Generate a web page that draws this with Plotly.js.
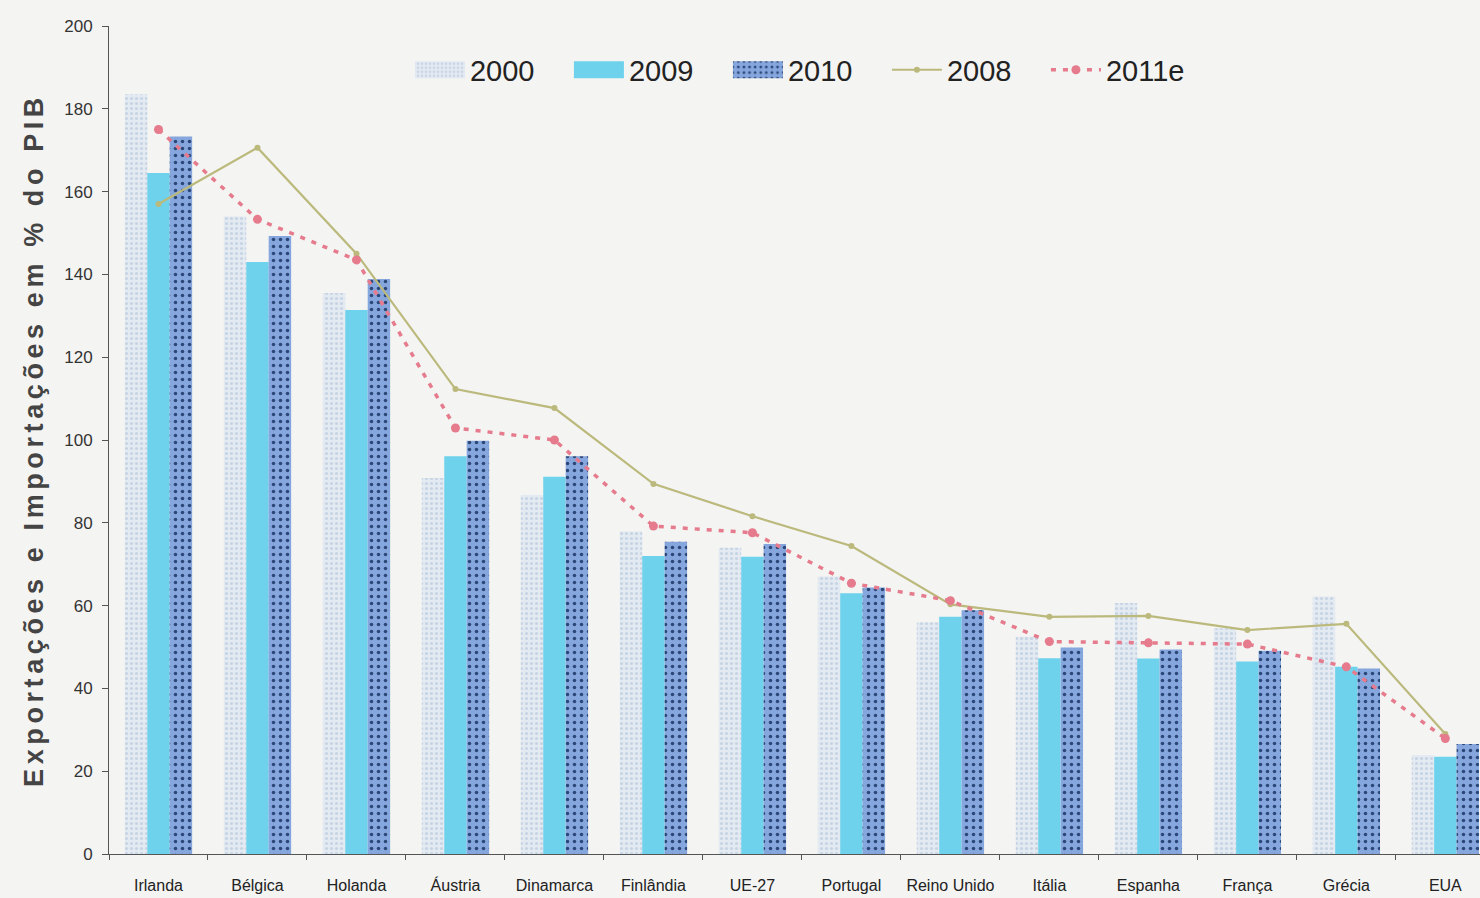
<!DOCTYPE html>
<html>
<head>
<meta charset="utf-8">
<script src="https://cdn.plot.ly/plotly-3.0.1.min.js"></script>
<style>
html,body{margin:0;padding:0;background:#f4f4f2;overflow:hidden;}
#chart{width:1480px;height:898px;}
#chart .ytitle{letter-spacing:4.6px;}
</style>
</head>
<body>
<div id="chart"></div>
<script>
const categories = ['Irlanda','Bélgica','Holanda','Áustria','Dinamarca','Finlândia','UE-27','Portugal','Reino Unido','Itália','Espanha','França','Grécia','EUA'];
const v2000 = [183.5, 154, 135.5, 90.8, 86.7, 77.9, 74, 67, 56, 52.5, 60.6, 54.5, 62.2, 23.9];
const v2009 = [164.5, 143, 131.4, 96.1, 91.1, 72, 71.8, 63, 57.3, 47.3, 47.2, 46.5, 45.2, 23.5];
const v2010 = [173.3, 149.3, 138.9, 99.8, 96.1, 75.4, 74.9, 64.4, 58.9, 49.9, 49.4, 49.1, 44.8, 26.6];
const v2008 = [157, 170.6, 145, 112.3, 107.7, 89.4, 81.6, 74.4, 60.3, 57.3, 57.5, 54.1, 55.6, 29];
const v2011e = [175, 153.3, 143.5, 102.9, 100, 79.2, 77.6, 65.4, 61.2, 51.3, 51, 50.7, 45.2, 27.9];

const sans = '"Liberation Sans", Arial, sans-serif';
const traces = [
  {type:'bar', name:'2000', x:categories, y:v2000,
   marker:{color:'#e2e9f1', line:{width:0},
     pattern:{shape:'.', fgcolor:'#c6d4e4', bgcolor:'#e4eaf2', size:5, solidity:0.3}}},
  {type:'bar', name:'2009', x:categories, y:v2009,
   marker:{color:'#6fd2ec', line:{width:0}}},
  {type:'bar', name:'2010', x:categories, y:v2010,
   marker:{color:'#86a6de', line:{width:0},
     pattern:{shape:'.', fgcolor:'#2b4778', bgcolor:'#86a6de', size:7, solidity:0.2}}},
  {type:'scatter', mode:'lines+markers', name:'2008', x:categories, y:v2008,
   line:{color:'#bbb97c', width:2.2}, marker:{color:'#bbb97c', size:6, symbol:'circle'}},
  {type:'scatter', mode:'lines+markers', name:'2011e', x:categories, y:v2011e,
   line:{color:'#e57b8c', width:3.5, dash:'5px,7px'}, marker:{color:'#e57b8c', size:9, symbol:'circle'}}
];

const layout = {
  width:1480, height:898,
  paper_bgcolor:'#f4f4f2', plot_bgcolor:'#f4f4f2',
  margin:{l:109, r:0, t:26, b:44},
  barmode:'group', bargap:0.32, bargroupgap:0,
  showlegend:true,
  legend:{orientation:'h', x:0.2195, xanchor:'left', y:0.947, yanchor:'middle',
    font:{family:sans, size:29, color:'#222'}, bgcolor:'rgba(0,0,0,0)',
    entrywidth:94, entrywidthmode:'pixels', itemwidth:50, traceorder:'normal'},
  xaxis:{range:[-0.5,13.35], showline:true, linecolor:'#555', linewidth:1,
    ticks:'outside', ticklen:5, tickcolor:'#555', tickson:'boundaries', tickangle:0,
    tickfont:{family:sans, size:16, color:'#222'}, ticklabelstandoff:17,
    showgrid:false, zeroline:false, fixedrange:true, automargin:false},
  yaxis:{range:[0,200], tick0:0, dtick:20, showline:true, linecolor:'#555', linewidth:1,
    ticks:'outside', ticklen:6, tickcolor:'#555', ticklabelstandoff:6,
    tickfont:{family:sans, size:17, color:'#333'},
    showgrid:false, zeroline:false, automargin:false,
    title:{text:'Exportações e Importações em % do PIB', standoff:12,
      font:{family:sans, size:27, color:'#444444', weight:'bold'}}}
};

Plotly.newPlot('chart', traces, layout, {displayModeBar:false, staticPlot:true}).then(function(gd){
  gd.querySelectorAll('.legend .legendpoints path').forEach(function(p){
    const d = p.getAttribute('d') || '';
    if (d.replace(/\s/g,'') === 'M6,6H-6V-6H6Z') {
      p.setAttribute('d', 'M25,8.5H-25V-8.5H25Z');
    }
  });
});
</script>
</body>
</html>
